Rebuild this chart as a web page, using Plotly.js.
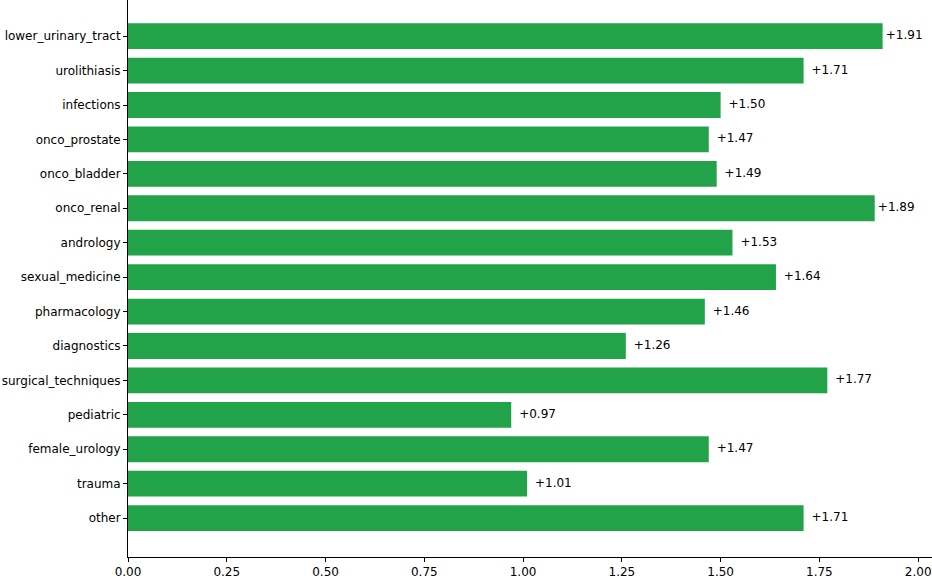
<!DOCTYPE html>
<html>
<head>
<meta charset="utf-8">
<script src="https://cdn.plot.ly/plotly-3.0.1.min.js"></script>
<style>
  html, body { margin: 0; padding: 0; background: #fff; }
  #myDiv { width: 932px; height: 578px; }
</style>
</head>
<body>
<div id="myDiv"></div>
<script>
var categories = ['lower_urinary_tract', 'urolithiasis', 'infections', 'onco_prostate',
  'onco_bladder', 'onco_renal', 'andrology', 'sexual_medicine', 'pharmacology',
  'diagnostics', 'surgical_techniques', 'pediatric', 'female_urology', 'trauma', 'other'];
var values = [1.91, 1.71, 1.50, 1.47, 1.49, 1.89, 1.53, 1.64, 1.46, 1.26, 1.77, 0.97, 1.47, 1.01, 1.71];
var xTicks = [0, 0.25, 0.5, 0.75, 1, 1.25, 1.5, 1.75, 2];

var green = '#22a34a';
var idx = categories.map(function (c, i) { return i; });

var bars = {
  type: 'bar',
  orientation: 'h',
  x: values,
  y: idx,
  width: 0.75,
  marker: {color: green},
  hoverinfo: 'x+text',
  text: categories,
  textposition: 'none'
};

// value labels just past the end of each bar
var labels = {
  type: 'scatter',
  mode: 'text',
  x: values.map(function (v) { return v + (v > 1.8 ? 0.008 : 0.02); }),
  y: idx,
  text: values.map(function (v) { return '+' + v.toFixed(2); }),
  textposition: 'middle right',
  textfont: {family: 'DejaVu Sans', size: 12, color: '#000'},
  hoverinfo: 'skip'
};

var layout = {
  width: 932,
  height: 578,
  margin: {l: 128, r: 0, t: 0, b: 21},
  paper_bgcolor: '#fff',
  plot_bgcolor: '#fff',
  showlegend: false,
  font: {family: 'DejaVu Sans', size: 12, color: '#000'},
  xaxis: {
    range: [0, 2.035],
    tickvals: xTicks,
    ticktext: xTicks.map(function (t) { return t.toFixed(2); }),
    ticks: 'outside',
    ticklen: 4,
    tickcolor: '#000',
    showline: true,
    linecolor: '#000',
    linewidth: 1,
    showgrid: false,
    zeroline: false,
    fixedrange: true
  },
  yaxis: {
    range: [15.13, -1.05],
    tickvals: idx,
    ticktext: categories,
    ticks: 'outside',
    ticklen: 4,
    tickcolor: '#000',
    showline: true,
    linecolor: '#000',
    linewidth: 1,
    showgrid: false,
    zeroline: false,
    fixedrange: true
  }
};

Plotly.newPlot('myDiv', [bars, labels], layout, {displayModeBar: false, staticPlot: true});
</script>
</body>
</html>
